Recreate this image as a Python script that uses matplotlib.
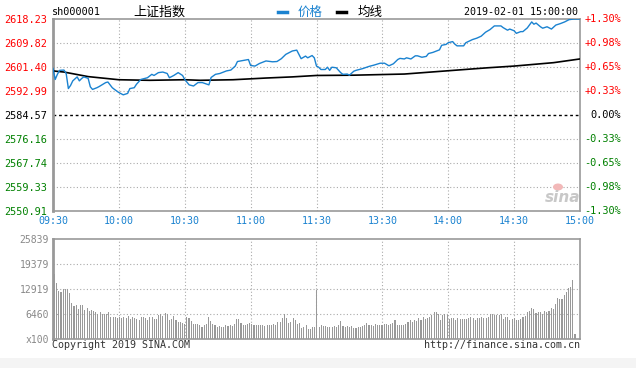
import matplotlib
matplotlib.use('Agg')
import matplotlib.pyplot as plt
from matplotlib.lines import Line2D
from matplotlib.patches import Rectangle, Ellipse
import numpy as np

plt.rcParams['font.family'] = ['DejaVu Sans Mono', 'Noto Sans CJK SC']

W, H = 636, 368

# axis values
pre_close = 2584.57
price_levels = [2550.91, 2559.33, 2567.74, 2576.16, 2584.57, 2592.99, 2601.40, 2609.82, 2618.23]
pct_labels = ['-1.30%', '-0.98%', '-0.65%', '-0.33%', '0.00%', '+0.33%', '+0.65%', '+0.98%', '+1.30%']
time_labels = ['09:30', '10:00', '10:30', '11:00', '11:30', '13:30', '14:00', '14:30', '15:00']
vol_levels = [0, 6460, 12919, 19379, 25839]
vol_labels = ['x100', '6460', '12919', '19379', '25839']

# price line, minute index (0..240) -> value
price_minutes = [0, 1, 2, 3, 5, 6, 7, 8, 9, 11, 12, 13, 14, 16, 17, 18, 20, 21, 24, 25,
                 27, 28, 30, 32, 34, 35, 37, 38, 40, 43, 45, 46, 48, 50, 52, 53, 55, 57, 59, 60,
                 62, 64, 66, 68, 71, 72, 74, 76, 79, 81, 83, 84, 87, 89, 90, 92, 94, 97, 100, 102,
                 104, 106, 109, 111, 113, 115, 116, 118, 119, 120,
                 121, 122, 124, 125, 126, 127, 129, 131, 132, 134, 135, 137, 138, 141, 144, 146, 149, 151, 153, 155,
                 157, 158, 160, 161, 163, 165, 166, 168, 170, 171, 173, 176, 177, 179, 180, 182, 183, 184, 187, 188,
                 191, 193, 195, 197, 199, 201, 204, 205, 207, 208, 210, 211, 213, 214, 216, 218, 219, 220, 222, 223,
                 225, 227, 229, 231, 233, 235, 237, 240]
price_values = [2600.9, 2597.0, 2598.8, 2600.2, 2600.3, 2599.1, 2593.8, 2594.9, 2596.5, 2597.9,
                2596.5, 2597.3, 2597.9, 2597.4, 2594.4, 2593.5, 2594.1, 2594.5, 2595.9, 2596.1,
                2594.1, 2593.5, 2592.4, 2591.6, 2592.1, 2593.8, 2594.1, 2595.3, 2597.0, 2597.6,
                2598.8, 2598.4, 2599.4, 2599.6, 2599.1, 2597.6, 2598.4, 2599.4, 2598.4, 2597.0,
                2595.1, 2594.7, 2595.9, 2595.9, 2595.1, 2597.7, 2598.8, 2599.1, 2600.0, 2600.3,
                2601.7, 2603.3, 2603.7, 2604.0, 2601.9, 2601.7, 2602.6, 2603.5, 2603.2, 2603.3,
                2604.3, 2605.8, 2607.0, 2607.3, 2604.3, 2605.2, 2604.6, 2605.4, 2604.6, 2601.7,
                2601.3, 2600.5, 2600.5, 2601.3, 2600.2, 2601.3, 2601.1, 2599.4, 2598.8, 2598.9,
                2598.5, 2599.9, 2600.2, 2600.8, 2601.6, 2602.0, 2602.7, 2602.7, 2601.8, 2602.5,
                2604.0, 2604.4, 2604.2, 2604.6, 2604.2, 2605.3, 2605.3, 2604.8, 2605.1, 2606.1,
                2606.5, 2607.4, 2609.0, 2609.3, 2609.9, 2610.3, 2609.4, 2608.8, 2608.8, 2609.9,
                2611.0, 2611.5, 2612.2, 2613.6, 2614.5, 2615.8, 2615.8, 2615.2, 2614.3, 2614.7,
                2614.1, 2613.2, 2613.8, 2613.8, 2615.1, 2617.2, 2616.4, 2616.8, 2615.5, 2615.0,
                2615.5, 2614.7, 2616.1, 2616.6, 2617.2, 2618.0, 2618.2, 2618.23]

avg_minutes = [0, 5, 16, 30, 44, 60, 67, 82, 97, 109, 120, 137, 160, 179, 198, 210, 228, 240]
avg_values = [2600.0, 2599.6, 2598.0, 2596.9, 2596.7, 2596.9, 2596.7, 2596.9, 2597.5, 2597.9,
              2598.4, 2598.5, 2598.9, 2600.0, 2601.1, 2601.7, 2602.9, 2604.2]

# volume per minute (x100)
volumes = [16800, 14400, 12500, 12200, 13000, 13000, 12900, 12000, 9300, 8600,
           8700, 7800, 8800, 8800, 7500, 8000, 7300, 7400, 7300, 6900,
           6400, 6900, 6600, 6600, 6400, 6900, 5700, 5700, 5700, 5500,
           5700, 5500, 5700, 5500, 5900, 5300, 5700, 5500, 5200, 5000,
           5700, 5600, 5400, 5000, 5700, 5700, 5200, 5100, 6100, 6600,
           5900, 6700, 6500, 4900, 5100, 6000, 5000, 4500, 4400, 4100,
           4000, 5700, 5500, 4600, 4000, 3800, 3900, 3500, 3000, 3600,
           4000, 5700, 4600, 4000, 3500, 3200, 3300, 3200, 3200, 3600,
           3400, 3600, 3300, 3800, 5200, 5200, 4200, 3600, 3700, 4000,
           4200, 3800, 3700, 3700, 3700, 3700, 3700, 3400, 3600, 3600,
           3600, 3900, 3600, 4400, 4500, 5500, 6600, 5400, 4200, 4400,
           5400, 5000, 3800, 4100, 2800, 3000, 3600, 2600, 2700, 3100,
           3200, 12700,
           3200, 3500, 3300, 3300, 3100, 3000, 3000, 3400, 3200,
           3700, 4700, 3400, 3000, 3300, 3100, 3300, 2900, 2900, 3000,
           3200, 3300, 3700, 4100, 3500, 3500, 3300, 3800, 3500, 3500,
           3600, 4000, 3800, 3600, 3800, 4200, 4900, 3700, 3700, 3700,
           3700, 3800, 4500, 4900, 4300, 5000, 4600, 5400, 5000, 5700,
           5300, 5400, 5700, 6200, 6900, 7100, 6500, 5000, 6300, 6500,
           6200, 5300, 5500, 5500, 4900, 5400, 5300, 5100, 5300, 5300,
           5400, 5800, 5400, 5000, 5400, 5500, 5800, 5400, 5400, 5800,
           6600, 6600, 6300, 6100, 6300, 6400, 5300, 5600, 5800, 5000,
           5200, 5500, 4900,
           4900, 5100, 5800, 6050, 6900, 7250, 8100, 7800, 6650, 7100,
           6900, 6400, 7250, 6900, 7250, 7950, 7800, 9070, 10700, 10400,
           10400, 11400, 12300, 13300, 13560, 15300, 1380]

GRID = '#aaaaaa'
FRAME = '#999999'
RED = '#ff0000'
GREEN = '#008000'
BLUE = '#1a82d0'


def fx(px):
    return px / W


def fy(py):
    return 1 - py / H


fig = plt.figure(figsize=(W / 100, H / 100), dpi=100)
fig.patch.set_facecolor('white')
fig.add_artist(Rectangle((0, 0), 1, fy(358.3), transform=fig.transFigure,
                         facecolor='#f4f4f4', edgecolor='none', zorder=0))

# ---- price panel ----
ax = fig.add_axes([fx(53), fy(210.7), 527 / W, 191.7 / H])
ax.set_xlim(0, 240)
ax.set_ylim(price_levels[0], price_levels[-1])
for lv in price_levels[1:-1]:
    if lv == pre_close:
        ax.axhline(lv, color='black', lw=1, ls=(0, (2, 2)), zorder=1)
    else:
        ax.axhline(lv, color=GRID, lw=0.8, ls=(0, (1, 2)), zorder=1)
for m in range(30, 240, 30):
    ax.axvline(m, color=GRID, lw=0.8, ls=(0, (1, 2)), zorder=1)

ax.plot(avg_minutes, avg_values, color='black', lw=1.2, zorder=3)
ax.plot(price_minutes, price_values, color=BLUE, lw=1, zorder=4)

ax.set_yticks(price_levels)
ax.set_yticklabels(['%.2f' % v for v in price_levels], fontsize=7.4)
for i, lab in enumerate(ax.get_yticklabels()):
    lab.set_color(GREEN if i < 4 else ('black' if i == 4 else RED))
ax.set_xticks(range(0, 241, 30))
ax.set_xticklabels(time_labels, fontsize=7.2, color=BLUE)
ax.tick_params(length=0, pad=4)
for s in ax.spines.values():
    s.set_color(FRAME)
    s.set_linewidth(1.2)
ax.spines['left'].set_linewidth(2)

for i, (lv, txt) in enumerate(zip(price_levels, pct_labels)):
    col = GREEN if i < 4 else ('black' if i == 4 else RED)
    ax.text((621 - 53) / 527, lv, txt, transform=ax.get_yaxis_transform(),
            ha='right', va='center', fontsize=7.4, color=col)

# ---- volume panel ----
vax = fig.add_axes([fx(53), fy(339), 527 / W, 99.7 / H])
x0, x1 = -0.7, 242.3
vax.set_xlim(x0, x1)
vax.set_ylim(0, vol_levels[-1])
for lv in vol_levels[1:-1]:
    vax.axhline(lv, color=GRID, lw=0.8, ls=(0, (1, 2)), zorder=1)
for k in range(1, 8):
    vax.axvline(x0 + k * (x1 - x0) / 8, color=GRID, lw=0.8, ls=(0, (1, 2)), zorder=1)
vax.bar(np.arange(len(volumes)), volumes, width=0.5, color='#999999', zorder=2)
vax.set_yticks(vol_levels)
vax.set_yticklabels(vol_labels, fontsize=7, color='#888888')
vax.set_xticks([])
vax.tick_params(length=0, pad=3)
for s in vax.spines.values():
    s.set_color(FRAME)
    s.set_linewidth(1.2)
vax.spines['left'].set_linewidth(2)

# ---- header ----
fig.text(fx(52), fy(12), 'sh000001', fontsize=7.3, va='center', ha='left')
fig.text(fx(133), fy(12), '上证指数', fontsize=9.4, va='center', ha='left',
         family=['Noto Sans CJK SC'])
fig.add_artist(Line2D([fx(278), fx(287)], [fy(12), fy(12)], color=BLUE, lw=2.5,
                      transform=fig.transFigure))
fig.text(fx(298), fy(12), '价格', fontsize=9, va='center', ha='left', color=BLUE,
         family=['Noto Sans CJK SC'])
fig.add_artist(Line2D([fx(337), fx(346)], [fy(12), fy(12)], color='black', lw=2.5,
                      transform=fig.transFigure))
fig.text(fx(358), fy(12), '均线', fontsize=9, va='center', ha='left',
         family=['Noto Sans CJK SC'])
fig.text(fx(578), fy(12), '2019-02-01 15:00:00', fontsize=7.2, va='center', ha='right')

# ---- footer and watermark ----
fig.text(fx(52), fy(345.5), 'Copyright 2019 SINA.COM', fontsize=7.2, va='center',
         ha='left', color='#333333')
fig.text(fx(580), fy(345.5), 'http://finance.sina.com.cn', fontsize=7.2, va='center',
         ha='right', color='#333333')
fig.add_artist(Ellipse((fx(558), fy(187)), 10 / W, 7 / H, transform=fig.transFigure,
                       facecolor='#f2b8b8', edgecolor='none'))
fig.text(fx(563), fy(197), 'sina', fontsize=11, style='italic', weight='bold',
         color='#c8c8c8', va='center', ha='center', family=['DejaVu Sans'])

fig.savefig('out.png', dpi=100)
